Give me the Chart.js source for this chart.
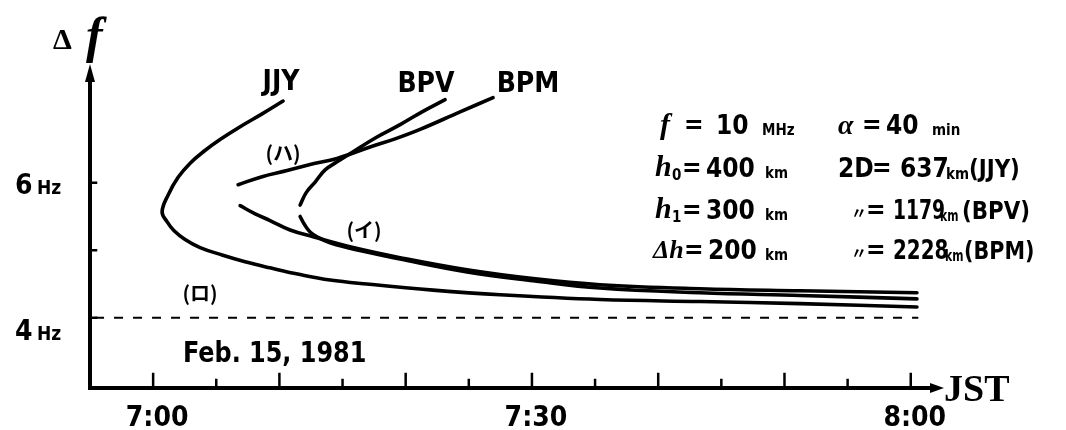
<!DOCTYPE html>
<html>
<head>
<meta charset="utf-8">
<script src="https://cdn.jsdelivr.net/npm/chart.js@4.4.1/dist/chart.umd.min.js"></script>
<style>
  body { margin: 0; background: #fff; }
  canvas { display: block; }
</style>
</head>
<body>
<canvas id="chart" width="1066" height="430"></canvas>
<script>
// time axis: minutes after 7:00 (JST), frequency axis: Hz
var xTickLabels = ['7:00', '7:30', '8:00'];
var xTickValues = [0, 30, 60];
var yTickLabels = ['6', '4'];
var yTickValues = [6, 4];

// JJY (2D = 637 km)
var jjyTime = [10.29, 8.63, 6.89, 5.30, 4.05, 2.93, 1.98, 1.19, 0.71, 1.11, 1.66, 2.53, 3.72, 5.46, 7.28, 9.26, 11.64, 14.01, 16.94, 22.17, 27.47, 35.39, 43.31, 51.23, 60.49];
var jjyDf = [7.21, 7.02, 6.83, 6.64, 6.47, 6.29, 6.08, 5.82, 5.57, 5.42, 5.29, 5.16, 5.04, 4.93, 4.83, 4.74, 4.64, 4.56, 4.50, 4.41, 4.34, 4.27, 4.24, 4.21, 4.16];

// BPV (2D = 1179 km), upper and lower branch
var bpvUpTime = [23.12, 21.30, 19.56, 17.66, 15.84, 14.57, 13.62, 12.83, 12.11, 11.64];
var bpvUpDf = [7.23, 7.05, 6.86, 6.67, 6.46, 6.31, 6.19, 6.01, 5.85, 5.67];
var bpvLoTime = [11.64, 11.96, 12.43, 13.06, 14.01, 15.99, 19.56, 24.86, 30.09, 35.39, 43.31, 51.23, 60.49];
var bpvLoDf = [5.50, 5.39, 5.27, 5.19, 5.11, 5.01, 4.87, 4.68, 4.55, 4.44, 4.37, 4.33, 4.28];

// BPM (2D = 2228 km), upper and lower branch
var bpmUpTime = [26.92, 24.31, 21.14, 19.16, 17.18, 14.57, 12.43, 10.61, 8.63, 6.73];
var bpmUpDf = [7.26, 7.05, 6.79, 6.65, 6.53, 6.36, 6.27, 6.18, 6.09, 5.97];
var bpmLoTime = [6.89, 8.08, 9.26, 10.85, 12.67, 15.84, 19.56, 24.86, 30.09, 35.39, 43.31, 51.23, 60.49];
var bpmLoDf = [5.66, 5.54, 5.44, 5.30, 5.20, 5.04, 4.89, 4.71, 4.58, 4.49, 4.43, 4.40, 4.37];

// 4 Hz reference line
var refTime = [-4.6, 60.6];
var refDf = [4, 4];

function pts(xs, ys) {
    var out = [];
    for (var i = 0; i < xs.length; i++) out.push({ x: xs[i], y: ys[i] });
    return out;
}

function curve(xs, ys) {
    return {
        data: pts(xs, ys),
        showLine: true,
        borderColor: '#000',
        borderWidth: 3.6,
        pointRadius: 0,
        tension: 0.4,
        borderCapStyle: 'round',
        borderJoinStyle: 'round'
    };
}

var bold = "'DejaVu Sans Condensed', 'DejaVu Sans', sans-serif";
var serif = "'Liberation Serif', 'DejaVu Serif', serif";
var cjk = "'Noto Sans CJK JP', sans-serif";

// sx squeezes the text horizontally (hand lettering is narrow)
function put(ctx, t, x, y, font, align, sx) {
    sx = sx || 1;
    ctx.save();
    ctx.font = font;
    ctx.textAlign = align || 'left';
    ctx.translate(x, y);
    ctx.scale(sx, 1);
    ctx.fillText(t, 0, 0);
    ctx.restore();
}

var axesPlugin = {
    id: 'handAxes',
    beforeDatasetsDraw: function(chart) {
        var ctx = chart.ctx;
        var xs = chart.scales.x, ys = chart.scales.y;
        var x0 = xs.getPixelForValue(-5);
        var y0 = ys.getPixelForValue(2.96);
        var xEnd = xs.getPixelForValue(62);
        var yTop = ys.getPixelForValue(7.55);
        ctx.save();
        ctx.strokeStyle = '#000';
        ctx.fillStyle = '#000';
        ctx.lineWidth = 4;
        ctx.lineCap = 'square';
        ctx.beginPath();
        ctx.moveTo(x0, yTop);
        ctx.lineTo(x0, y0);
        ctx.lineTo(xEnd, y0);
        ctx.stroke();
        // arrow heads
        ctx.beginPath();
        ctx.moveTo(x0, yTop - 14);
        ctx.lineTo(x0 - 5, yTop + 4);
        ctx.lineTo(x0 + 5, yTop + 4);
        ctx.closePath();
        ctx.fill();
        ctx.beginPath();
        ctx.moveTo(xEnd + 8, y0);
        ctx.lineTo(xEnd - 6, y0 - 5);
        ctx.lineTo(xEnd - 6, y0 + 5);
        ctx.closePath();
        ctx.fill();
        // x ticks every 5 min, pointing up
        ctx.lineWidth = 2.5;
        for (var m = 0; m <= 60; m += 5) {
            var px = xs.getPixelForValue(m);
            ctx.beginPath();
            ctx.moveTo(px, y0);
            ctx.lineTo(px, y0 - (m % 10 === 0 ? 14 : 8));
            ctx.stroke();
        }
        // y ticks
        [6, 5, 4].forEach(function(v) {
            var py = ys.getPixelForValue(v);
            ctx.beginPath();
            ctx.moveTo(x0, py);
            ctx.lineTo(x0 + 6, py);
            ctx.stroke();
        });
        ctx.restore();
    },
    afterDraw: function(chart) {
        var ctx = chart.ctx;
        var xs = chart.scales.x, ys = chart.scales.y;
        ctx.save();
        ctx.fillStyle = '#000';
        ctx.textBaseline = 'alphabetic';

        // axis titles
        put(ctx, 'Δ', 53, 49, 'bold 30px ' + serif);
        put(ctx, 'f', 86, 52, 'italic bold 50px ' + serif);
        put(ctx, 'JST', 944, 401, 'bold 38px ' + serif);

        // tick labels
        xTickValues.forEach(function(v, i) {
            put(ctx, xTickLabels[i], xs.getPixelForValue(v) + 4, 426, 'bold 28px ' + bold, 'center');
        });
        yTickValues.forEach(function(v, i) {
            var py = ys.getPixelForValue(v) + (v === 4 ? 22 : 11);
            put(ctx, yTickLabels[i], 15, py, 'bold 28px ' + bold);
            put(ctx, 'Hz', 37, py, 'bold 19px ' + bold);
        });

        // station names
        put(ctx, 'JJY', 281, 90, 'bold 28px ' + bold, 'center');
        put(ctx, 'BPV', 426, 92, 'bold 28px ' + bold, 'center');
        put(ctx, 'BPM', 528, 92, 'bold 28px ' + bold, 'center');

        // curve labels
        put(ctx, '(ハ)', 283, 161, 'bold 20px ' + cjk, 'center');
        put(ctx, '(イ)', 364, 238, 'bold 20px ' + cjk, 'center');
        put(ctx, '(ロ)', 200, 301, 'bold 20px ' + cjk, 'center');

        put(ctx, 'Feb. 15, 1981', 183, 362, 'bold 28px ' + bold, 'left', 0.95);

        // parameter block
        var big = 'bold 26px ' + bold;
        var small = 'bold 15px ' + bold;
        var it = 'italic bold 30px ' + serif;
        var par = 'bold 25px ' + bold;
        put(ctx, 'f', 660, 134, it);
        put(ctx, '=', 684, 133, big);
        put(ctx, '10', 716, 134, big);
        put(ctx, 'MHz', 762, 135, small);
        put(ctx, 'α', 838, 134, 'italic bold 28px ' + serif);
        put(ctx, '=', 862, 133, big);
        put(ctx, '40', 886, 134, big);
        put(ctx, 'min', 932, 135, small);

        put(ctx, 'h', 655, 176, it);
        put(ctx, '0', 672, 180, small);
        put(ctx, '=', 682, 176, big);
        put(ctx, '400', 706, 177, big);
        put(ctx, 'km', 765, 178, small);
        put(ctx, '2D', 838, 177, big);
        put(ctx, '=', 872, 176, big);
        put(ctx, '637', 900, 177, big);
        put(ctx, 'km', 946, 179, small);
        put(ctx, '(JJY)', 969, 177, par, 'left', 0.95);

        put(ctx, 'h', 655, 218, it);
        put(ctx, '1', 672, 222, small);
        put(ctx, '=', 682, 218, big);
        put(ctx, '300', 706, 219, big);
        put(ctx, 'km', 765, 220, small);
        put(ctx, '〃', 851, 219, 'bold 16px ' + cjk);
        put(ctx, '=', 866, 218, big);
        put(ctx, '1179', 893, 219, big, 'left', 0.8);
        put(ctx, 'km', 940, 221, small, 'left', 0.8);
        put(ctx, '(BPV)', 962, 219, par, 'left', 0.95);

        put(ctx, 'Δh', 653, 258, 'italic bold 26px ' + serif);
        put(ctx, '=', 684, 258, big);
        put(ctx, '200', 708, 259, big);
        put(ctx, 'km', 765, 260, small);
        put(ctx, '〃', 851, 259, 'bold 16px ' + cjk);
        put(ctx, '=', 866, 258, big);
        put(ctx, '2228', 893, 259, big, 'left', 0.85);
        put(ctx, 'km', 945, 261, small, 'left', 0.8);
        put(ctx, '(BPM)', 964, 259, par, 'left', 0.92);

        ctx.restore();
    }
};

var ctx = document.getElementById('chart').getContext('2d');
var chart = new Chart(ctx, {
    type: 'scatter',
    data: {
        datasets: [
            curve(jjyTime, jjyDf),
            curve(bpvUpTime, bpvUpDf),
            curve(bpvLoTime, bpvLoDf),
            curve(bpmUpTime, bpmUpDf),
            curve(bpmLoTime, bpmLoDf),
            {
                data: pts(refTime, refDf),
                showLine: true,
                borderColor: '#000',
                borderWidth: 2,
                borderDash: [9, 10],
                pointRadius: 0,
                tension: 0
            }
        ]
    },
    options: {
        responsive: false,
        animation: false,
        layout: { padding: { left: 90, right: 130, top: 72, bottom: 42 } },
        plugins: { legend: { display: false }, tooltip: { enabled: false } },
        scales: {
            x: { type: 'linear', min: -5, max: 62, display: false },
            y: { type: 'linear', min: 2.96, max: 7.64, display: false }
        }
    },
    plugins: [axesPlugin]
});
</script>
</body>
</html>
